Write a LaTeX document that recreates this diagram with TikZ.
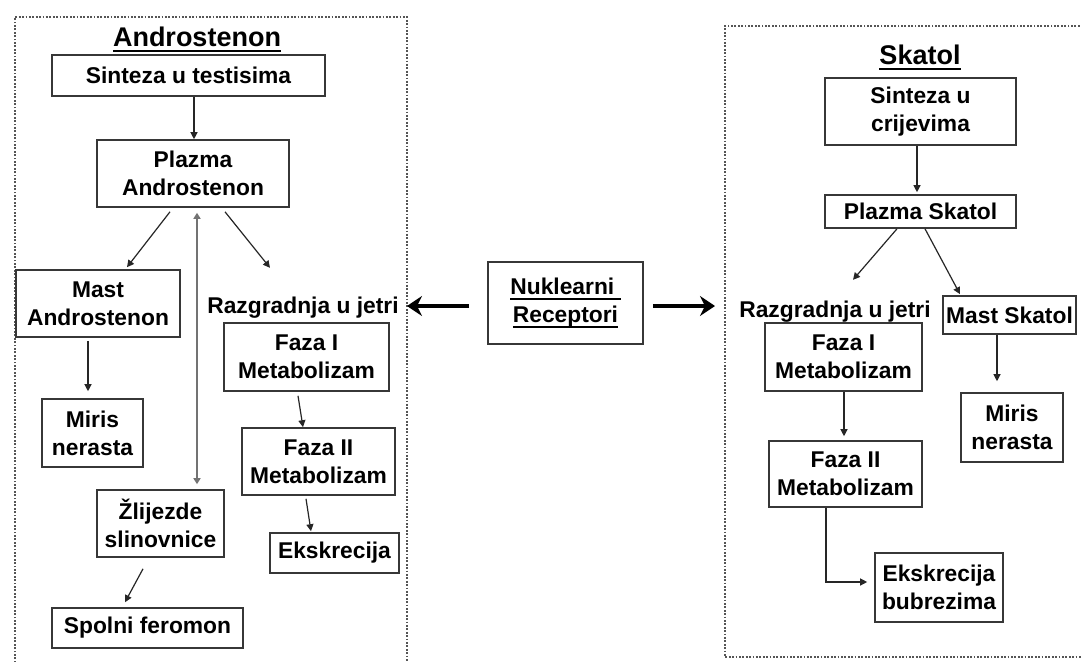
\documentclass[tikz,border=0pt]{standalone}
\usepackage{fontspec}
\setmainfont{Liberation Sans}
\usetikzlibrary{arrows.meta,calc}
\definecolor{boxgray}{RGB}{55,55,55}
\definecolor{framegray}{RGB}{85,85,85}
\newcommand\myul[1]{\setbox0\hbox{#1}\rlap{\rule[-5.5pt]{\wd0}{2pt}}\box0}
\begin{document}
\begin{tikzpicture}[x=1pt,y=-1pt,
  box/.style={draw=boxgray, line width=1.6pt, align=center, inner sep=2pt,
    font=\bfseries\fontsize{22.8}{28}\selectfont},
  lbl/.style={inner sep=0pt, anchor=base, text height=16pt, text depth=5pt,
    font=\bfseries\fontsize{22.8}{28}\selectfont},
  ttl/.style={inner sep=0pt, anchor=base, font=\bfseries\fontsize{27}{30}\selectfont},
  frame/.style={draw=framegray, line width=1.5pt, dash pattern=on 1.8pt off 1.6pt},
  arr/.style={draw=black!85, line width=1.2pt, -{Triangle[length=7pt,width=7pt]}},
  darr/.style={draw=black!55, line width=2.6pt, {Triangle[length=6pt,width=7pt]}-{Triangle[length=6pt,width=7pt]}},
  bigarr/.style={draw=black, line width=4pt, -{Stealth[length=15pt,width=20pt,inset=5pt]}},
]
\fill[white] (0,0) rectangle (1081,661);
\clip (0,0) rectangle (1081,661);

% frames
\draw[frame] (15,700) -- (15,17) -- (407,17) -- (407,700);
\draw[frame] (1100,26) -- (725,26) -- (725,657) -- (1100,657);

% left: Androstenon
\node[ttl] (ttlA) at (197,47) {\myul{Androstenon}};
\node[box, minimum width=273, minimum height=41] (sint) at (188.5,75.5) {Sinteza u testisima};
\node[box, minimum width=192, minimum height=67] (plaz) at (193,173.5) {Plazma\\Androstenon};
\node[box, minimum width=164, minimum height=67] (mastA) at (98,303.5) {Mast\\Androstenon};
\node[lbl] (razA) at (303,313) {Razgradnja u jetri};
\node[box, minimum width=165, minimum height=68] (faz1A) at (306.5,357) {Faza I\\Metabolizam};
\node[box, minimum width=153, minimum height=67] (faz2A) at (318.5,461.5) {Faza II\\Metabolizam};
\node[box, minimum width=129, minimum height=40] (eksA) at (334.5,553) {Ekskrecija};
\node[box, minimum width=101, minimum height=68] (mirA) at (92.5,433) {Miris\\nerasta};
\node[box, minimum width=127, minimum height=67] (zlij) at (160.5,523.5) {Žlijezde\\slinovnice};
\node[box, minimum width=191, minimum height=40] (spol) at (147.5,628) {Spolni feromon};

% center
\node[box, minimum width=155, minimum height=82] (nuk) at (565.5,303) {\myul{Nuklearni }\\\myul{Receptori}};
\coordinate (lt) at (407,306);
\coordinate (rt) at (715,306);

% right: Skatol
\node[ttl] (ttlS) at (920,65) {\myul{Skatol}};
\node[box, minimum width=191, minimum height=67] (sintS) at (920.5,111.5) {Sinteza u\\crijevima};
\node[box, minimum width=191, minimum height=33] (plazS) at (920.5,211.5) {Plazma Skatol};
\node[lbl] (razS) at (835,317) {Razgradnja u jetri};
\node[box, minimum width=133, minimum height=38] (mastS) at (1009.5,315) {Mast Skatol};
\node[box, minimum width=157, minimum height=68] (faz1S) at (843.5,357) {Faza I\\Metabolizam};
\node[box, minimum width=153, minimum height=66] (faz2S) at (845.5,474) {Faza II\\Metabolizam};
\node[box, minimum width=128, minimum height=69] (eksS) at (939,587.5) {Ekskrecija\\bubrezima};
\node[box, minimum width=102, minimum height=69] (mirS) at (1012,427.5) {Miris\\nerasta};

% connectors left
\draw[arr] ($(sint.south)+(5.5,0)$) -- ($(plaz.north)+(1,0)$);
\draw[arr] ($(plaz.south)+(-23,4)$) -- ($(mastA.north)+(29,-2)$);
\draw[arr] ($(plaz.south)+(32,4)$) -- ($(razA.north)+(-33,-29)$);
\draw[darr] ($(plaz.south)+(4,5)$) -- ($(zlij.north)+(36.5,-5)$);
\draw[arr] ($(mastA.south)+(-10,3)$) -- ($(mirA.north)+(-4.5,-7)$);
\draw[arr] ($(faz1A.south)+(-8.5,4)$) -- ($(faz2A.north)+(-15.5,0)$);
\draw[arr] ($(faz2A.south)+(-12.5,3)$) -- ($(eksA.north)+(-23.5,-1)$);
\draw[arr] ($(zlij.south)+(-17.5,11)$) -- ($(spol.north)+(-22.5,-5)$);

% center arrows
\draw[bigarr] ($(nuk.west)+(-18,3)$) -- (lt);
\draw[bigarr] ($(nuk.east)+(9,3)$) -- (rt);

% connectors right
\draw[arr] ($(sintS.south)+(-3.5,0)$) -- ($(plazS.north)+(-3.5,-2)$);
\draw[arr] ($(plazS.south)+(-23.5,0)$) -- ($(razS.north)+(18,-21)$);
\draw[arr] ($(plazS.south)+(4.5,0)$) -- ($(mastS.north)+(-49.5,-1)$);
\draw[arr] ($(faz1S.south)+(0.5,0)$) -- ($(faz2S.north)+(-1.5,-4)$);
\draw[arr] ($(faz2S.south)+(-19.5,0)$) |- ($(eksS.west)+(-7,-5.5)$);
\draw[arr] ($(mastS.south)+(-12.5,0)$) -- ($(mirS.north)+(-15,-11)$);
\end{tikzpicture}
\end{document}
